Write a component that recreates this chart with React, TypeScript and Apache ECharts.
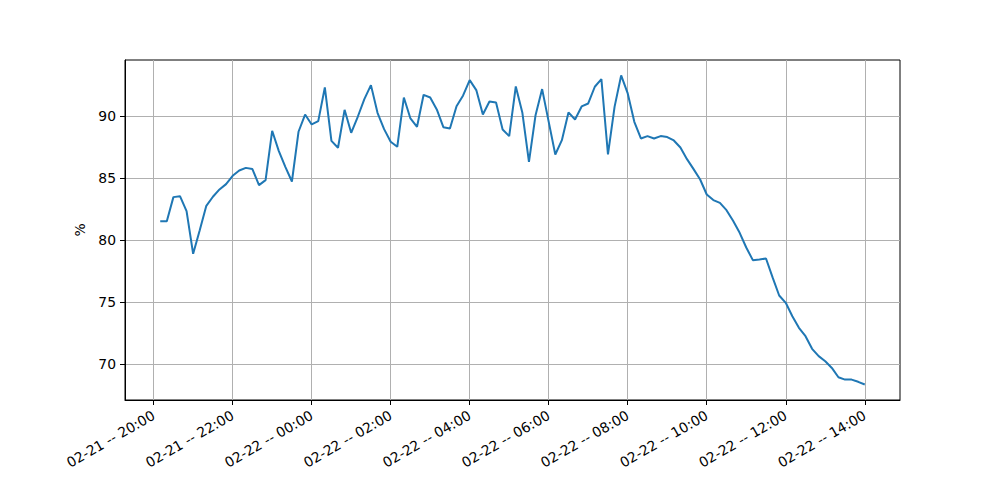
import React, { useEffect, useRef } from "react";
import * as echarts from "echarts";

// minutes since 02-21 00:00
const START_MIN = 1210; // 02-21 20:10
const STEP_MIN = 10;
const X_TICKS = [1200, 1320, 1440, 1560, 1680, 1800, 1920, 2040, 2160, 2280];
const Y_TICKS = [70, 75, 80, 85, 90];

const VALUES = [
  81.53, 81.53, 83.47, 83.55, 82.34, 78.9, 80.8, 82.77, 83.5, 84.09,
  84.52, 85.19, 85.62, 85.83, 85.73, 84.44, 84.84, 88.82, 87.2, 85.91,
  84.73, 88.74, 90.13, 89.33, 89.6, 92.31, 88.01, 87.45, 90.51, 88.66,
  89.95, 91.37, 92.5, 90.27, 88.95, 87.93,
  87.53, 91.5, 89.81, 89.14, 91.72, 91.5, 90.54, 89.11, 89.0, 90.8,
  91.67, 92.9, 92.1, 90.13, 91.18, 91.1, 88.92, 88.39, 92.39, 90.27,
  86.32, 90.08, 92.18, 89.54, 86.91, 88.06, 90.3, 89.73, 90.78, 91.02,
  92.37, 92.98, 86.91, 90.75, 93.28, 91.83, 89.54, 88.2, 88.39,
  88.2, 88.39, 88.31, 88.04, 87.47, 86.53, 85.73, 84.89, 83.68, 83.23,
  83.01, 82.42, 81.56, 80.59, 79.41, 78.39, 78.44, 78.52, 77.0, 75.54,
  74.95, 73.87, 72.93, 72.26, 71.24, 70.65, 70.24, 69.7, 68.95, 68.76,
  68.76, 68.58, 68.36,
];

const pad = (n: number) => (n < 10 ? "0" + n : "" + n);
const fmtTime = (m: number) => {
  const day = 21 + Math.floor(m / 1440);
  const r = ((m % 1440) + 1440) % 1440;
  return `02-${pad(day)} -- ${pad(Math.floor(r / 60))}:${pad(r % 60)}`;
};

export default function App() {
  const ref = useRef<HTMLDivElement>(null);
  useEffect(() => {
    if (!ref.current) return;
    const chart = echarts.init(ref.current, null, { renderer: "svg" });
    const data = VALUES.map((v, i) => [START_MIN + i * STEP_MIN, v]);
    const xs = data.map((d) => d[0]);
    const xMinD = Math.min(...xs), xMaxD = Math.max(...xs);
    const yMinD = Math.min(...VALUES), yMaxD = Math.max(...VALUES);
    const xm = (xMaxD - xMinD) * 0.05;
    const ym = (yMaxD - yMinD) * 0.05;
    const font = "DejaVu Sans";
    chart.setOption({
      animation: false,
      backgroundColor: "#ffffff",
      grid: {
        left: 125,
        right: 100,
        top: 60,
        bottom: 100,
        show: true,
        borderColor: "#000000",
        borderWidth: 1,
        backgroundColor: "transparent",
      },
      xAxis: {
        type: "value",
        min: xMinD - xm,
        max: xMaxD + xm,
        axisLine: { show: true, onZero: false, lineStyle: { color: "#000", width: 1 } },
        axisTick: {
          show: true,
          customValues: X_TICKS,
          length: 5,
          lineStyle: { color: "#000", width: 1 },
        },
        axisLabel: {
          customValues: X_TICKS,
          formatter: (v: number) => fmtTime(v),
          rotate: 30,
          margin: 14,
          color: "#000",
          fontSize: 13.9,
          fontFamily: font,
        },
        splitLine: { show: true, lineStyle: { color: "#b0b0b0", width: 1 } },
      },
      yAxis: {
        type: "value",
        min: yMinD - ym,
        max: yMaxD + ym,
        name: "%",
        nameLocation: "middle",
        nameGap: 35,
        nameRotate: 90,
        nameTextStyle: { color: "#000", fontSize: 13.9, fontFamily: font },
        axisLine: { show: true, lineStyle: { color: "#000", width: 1 } },
        axisTick: {
          show: true,
          customValues: Y_TICKS,
          length: 5,
          lineStyle: { color: "#000", width: 1 },
        },
        axisLabel: {
          customValues: Y_TICKS,
          margin: 9,
          color: "#000",
          fontSize: 13.9,
          fontFamily: font,
        },
        splitLine: { show: true, lineStyle: { color: "#b0b0b0", width: 1 } },
      },
      series: [
        {
          type: "line",
          data,
          showSymbol: false,
          symbol: "none",
          lineStyle: { color: "#1f77b4", width: 2 },
        },
      ],
    });
    return () => chart.dispose();
  }, []);
  return (
    <div
      ref={ref}
      style={{ position: "fixed", left: 0, top: 0, width: 1000, height: 500, background: "#fff" }}
    />
  );
}
